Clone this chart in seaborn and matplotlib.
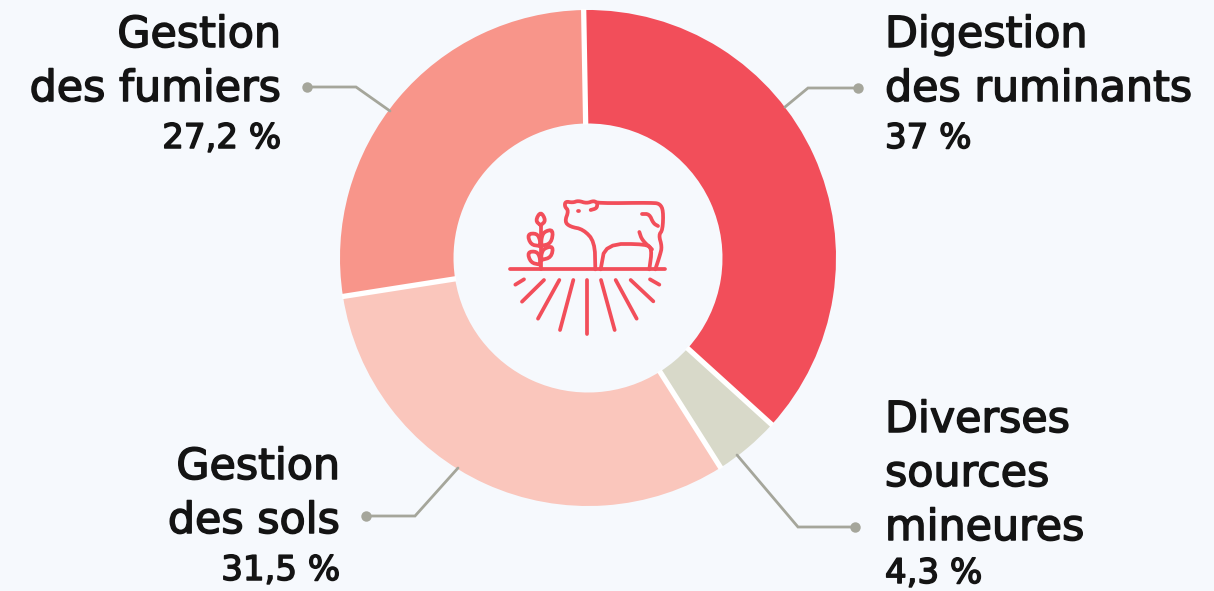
import matplotlib
matplotlib.use("Agg")
import matplotlib.pyplot as plt
import matplotlib.patheffects as pe
import numpy as np
import seaborn as sns

W, H = 1214, 591
BG = "#f6f9fd"
RED = "#f24e5a"
GREY = "#a5a69b"
INK = "#141414"

categories = ["Digestion des ruminants", "Diverses sources mineures", "Gestion des sols", "Gestion des fumiers"]
shares = [37, 4.3, 31.5, 27.2]
share_labels = ["37 %", "4,3 %", "31,5 %", "27,2 %"]
label_lines = [["Digestion", "des ruminants"], ["Diverses", "sources", "mineures"], ["Gestion", "des sols"], ["Gestion", "des fumiers"]]
slice_colors = ["#f24e5a", "#d8d9c9", "#fac6bc", "#f8958a"]

sns.set_theme(style="white", rc={"figure.facecolor": BG, "axes.facecolor": BG})
plt.rcParams["font.family"] = ["DejaVu Sans"]
palette = sns.color_palette(slice_colors)

fig = plt.figure(figsize=(W / 100, H / 100), dpi=100, facecolor=BG)
ax = fig.add_axes([0, 0, 1, 1])


def flip(points):
    """Convert top-down canvas points to the axes' upward y direction."""
    pts = np.asarray(points, dtype=float)
    return pts[:, 0], H - pts[:, 1]


CX, CY, R_OUT, R_IN, START = 588, H - 258, 248, 134.5, 91
ax.pie(shares, colors=palette, startangle=START, counterclock=False, radius=R_OUT, center=(CX, CY),
       wedgeprops=dict(width=R_OUT - R_IN, edgecolor="none", linewidth=0), frame=False)
ax.set_xlim(0, W)
ax.set_ylim(0, H)
ax.set_aspect("equal")
ax.axis("off")

# Thin light separators between neighbouring slices only
for edge in np.cumsum(shares):
    angle = np.deg2rad(START - edge / sum(shares) * 360)
    ax.plot([CX + (R_IN - 1) * np.cos(angle), CX + (R_OUT + 1) * np.cos(angle)],
            [CY + (R_IN - 1) * np.sin(angle), CY + (R_OUT + 1) * np.sin(angle)],
            color="white", lw=3.8, solid_capstyle="butt", zorder=2)

# Leader lines from the ring to each label block
leaders = [
    [(858, 88), (808, 88), (785, 107)],
    [(855, 527), (798, 527), (737, 455)],
    [(366, 516), (415, 516), (458, 468)],
    [(307, 87), (356, 87), (390, 111)],
]
for path in leaders:
    x, y = flip(path)
    ax.plot(x, y, color=GREY, lw=2.0, solid_joinstyle="miter", zorder=3)
    ax.plot(x[:1], y[:1], "o", color=GREY, ms=7.5, mew=0, zorder=3)

# Label blocks: name lines on a fixed pitch, share value below
stroke = [pe.withStroke(linewidth=1.1, foreground=INK)]
anchors = [(885, "left", 47), (885, "left", 432), (340, "right", 479), (281, "right", 47)]
for lines, value, (tx, ha, base) in zip(label_lines, share_labels, anchors):
    for i, line in enumerate(lines):
        ax.text(tx, H - (base + 54 * i), line, ha=ha, va="baseline", fontsize=30.8, color=INK, path_effects=stroke)
    value_y = min(base + 54 * (len(lines) - 1) + 47, 583)
    ax.text(tx, H - value_y, value, ha=ha, va="baseline", fontsize=24.5, color=INK, path_effects=stroke)


def soften(pts, rounds=2):
    """Round off corners of a polyline by repeated corner cutting, keeping its ends."""
    for _ in range(rounds):
        a, b = pts[:-1], pts[1:]
        cut = np.empty((2 * len(a), 2))
        cut[0::2] = 0.75 * a + 0.25 * b
        cut[1::2] = 0.25 * a + 0.75 * b
        pts = np.vstack([pts[:1], cut, pts[-1:]])
    return pts


# Farm pictogram in the hole of the ring, sketched on a small local grid
def icon(points, rounded=True):
    pts = np.asarray(points, dtype=float)
    if rounded:
        pts = soften(pts)
    x, y = flip(np.column_stack([490 + pts[:, 0] / 3, 180 + pts[:, 1] / 3]))
    ax.plot(x, y, color=RED, lw=2.7, solid_capstyle="round", solid_joinstyle="round", zorder=4)


icon([(60, 268), (526, 268)], rounded=False)
rays = [
    [(76, 314), (102, 298)], [(96, 365), (162, 300)], [(144, 416), (208, 300)], [(210, 450), (250, 300)],
    [(292, 462), (292, 300)], [(374, 450), (333, 300)], [(440, 416), (377, 300)], [(490, 364), (422, 300)],
    [(508, 314), (480, 298)],
]
for ray in rays:
    icon(ray, rounded=False)

# Cow outline
icon([(316, 268), (314, 185), (280, 148), (240, 140), (224, 125), (236, 92), (224, 80), (226, 64), (248, 68),
      (265, 62), (290, 70), (312, 62), (322, 70), (490, 68), (510, 72), (520, 92), (518, 150), (506, 165),
      (516, 200), (510, 225), (496, 268)])
icon([(332, 268), (346, 192), (470, 192), (486, 208), (478, 268)])
icon([(302, 90), (320, 85), (322, 72)])
icon([(456, 102), (478, 102), (490, 130), (504, 138)])
icon([(448, 156), (456, 180), (486, 208)])
icon([(264, 92), (268, 92)], rounded=False)

# Sprig: stem, top grain and paired leaves
icon([(152, 268), (152, 135)], rounded=False)
icon([(152, 136), (136, 122), (152, 94), (168, 122), (152, 136)], rounded=True)
icon([(150, 198), (122, 194), (112, 162), (140, 160), (150, 178), (150, 198)])
icon([(154, 198), (184, 190), (190, 148), (162, 155), (154, 175), (154, 198)])
icon([(150, 254), (122, 248), (112, 216), (140, 214), (150, 232), (150, 254)])
icon([(154, 240), (184, 232), (190, 198), (162, 205), (154, 222), (154, 240)])

fig.savefig("out.png", dpi=100, facecolor=BG)
